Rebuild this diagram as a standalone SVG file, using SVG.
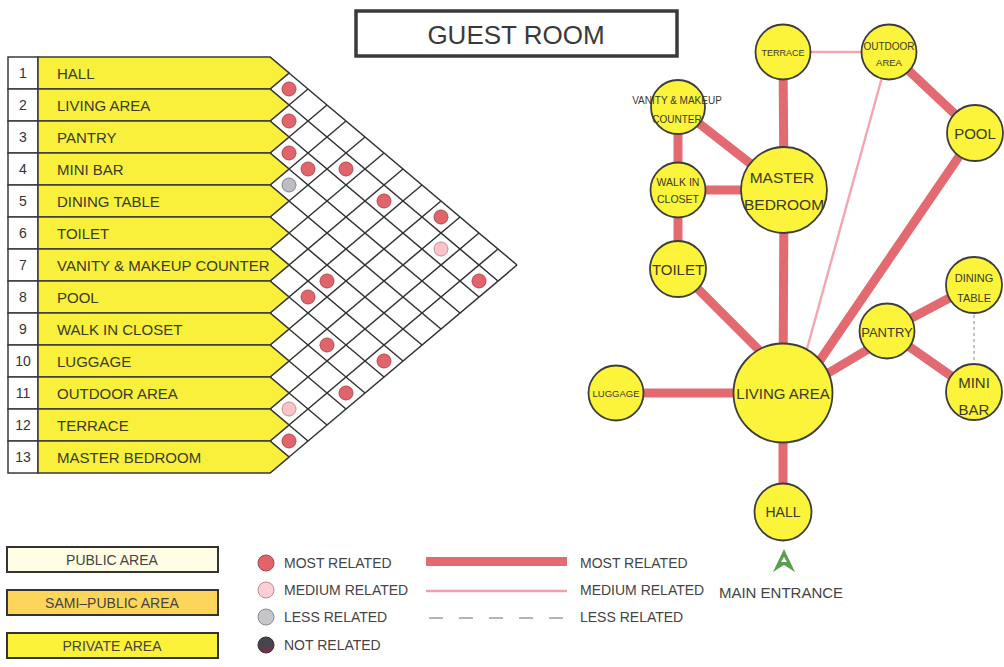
<svg xmlns="http://www.w3.org/2000/svg" width="1004" height="667" viewBox="0 0 1004 667">
<defs>
<style>
text{font-family:"Liberation Sans",Arial,sans-serif;fill:#3a3a2a}
.row{fill:#f9f03c;stroke:#3a3a3a;stroke-width:1.5}
.num{fill:#fff;stroke:#3a3a3a;stroke-width:1.5}
.lbl{font-size:15px}
.n{font-size:14px;text-anchor:middle;fill:#333}
.grid line{stroke:#333;stroke-width:1.5}
.d1{fill:#e0646a;stroke:#b24a52;stroke-width:1}
.d2{fill:#f8c4c8;stroke:#cf8a92;stroke-width:1}
.d3{fill:#bdbdc2;stroke:#85858a;stroke-width:1}
.node{fill:#fcf33b;stroke:#3d3d3d;stroke-width:1.8}
.t{text-anchor:middle;fill:#3a3a2a}
.thick{stroke:#e26a70;stroke-width:9;stroke-linecap:butt}
.med{stroke:#f2a6ae;stroke-width:2.4}
.less{stroke:#9a9aa6;stroke-width:1.2;stroke-dasharray:3 3}
.leg{font-size:14px;fill:#444}
.box{stroke:#333;stroke-width:2}
</style>
<linearGradient id="notrel" x1="0" y1="0" x2="0" y2="1">
<stop offset="0.5" stop-color="#45454d"/>
<stop offset="1" stop-color="#8a2648"/>
</linearGradient>
</defs>
<rect width="1004" height="667" fill="#fff"/>

<g id="title">
<rect x="356" y="11" width="321" height="45" fill="#fff" stroke="#3a3a3a" stroke-width="3.5"/>
<text x="516" y="44" font-size="26" text-anchor="middle" style="fill:#3a3a3a">GUEST ROOM</text>
</g>

<g id="matrix-grid" class="grid">
<polygon points="270,57 517,265 270,473" fill="#fff" stroke="none"/>
<line x1="270" y1="57" x2="517" y2="265"/>
<line x1="270" y1="89" x2="498" y2="281"/>
<line x1="270" y1="121" x2="479" y2="297"/>
<line x1="270" y1="153" x2="460" y2="313"/>
<line x1="270" y1="185" x2="441" y2="329"/>
<line x1="270" y1="217" x2="422" y2="345"/>
<line x1="270" y1="249" x2="403" y2="361"/>
<line x1="270" y1="281" x2="384" y2="377"/>
<line x1="270" y1="313" x2="365" y2="393"/>
<line x1="270" y1="345" x2="346" y2="409"/>
<line x1="270" y1="377" x2="327" y2="425"/>
<line x1="270" y1="409" x2="308" y2="441"/>
<line x1="270" y1="441" x2="289" y2="457"/>
<line x1="270" y1="89" x2="289" y2="73"/>
<line x1="270" y1="121" x2="308" y2="89"/>
<line x1="270" y1="153" x2="327" y2="105"/>
<line x1="270" y1="185" x2="346" y2="121"/>
<line x1="270" y1="217" x2="365" y2="137"/>
<line x1="270" y1="249" x2="384" y2="153"/>
<line x1="270" y1="281" x2="403" y2="169"/>
<line x1="270" y1="313" x2="422" y2="185"/>
<line x1="270" y1="345" x2="441" y2="201"/>
<line x1="270" y1="377" x2="460" y2="217"/>
<line x1="270" y1="409" x2="479" y2="233"/>
<line x1="270" y1="441" x2="498" y2="249"/>
<line x1="270" y1="473" x2="517" y2="265"/>
</g>

<g id="row-1"><rect class="num" x="8" y="57" width="30" height="32"/><polygon class="row" points="38,57 270,57 289,73 270,89 38,89"/><text class="n" x="23" y="78">1</text><text class="lbl" x="57" y="79">HALL</text></g>
<g id="row-2"><rect class="num" x="8" y="89" width="30" height="32"/><polygon class="row" points="38,89 270,89 289,105 270,121 38,121"/><text class="n" x="23" y="110">2</text><text class="lbl" x="57" y="111">LIVING AREA</text></g>
<g id="row-3"><rect class="num" x="8" y="121" width="30" height="32"/><polygon class="row" points="38,121 270,121 289,137 270,153 38,153"/><text class="n" x="23" y="142">3</text><text class="lbl" x="57" y="143">PANTRY</text></g>
<g id="row-4"><rect class="num" x="8" y="153" width="30" height="32"/><polygon class="row" points="38,153 270,153 289,169 270,185 38,185"/><text class="n" x="23" y="174">4</text><text class="lbl" x="57" y="175">MINI BAR</text></g>
<g id="row-5"><rect class="num" x="8" y="185" width="30" height="32"/><polygon class="row" points="38,185 270,185 289,201 270,217 38,217"/><text class="n" x="23" y="206">5</text><text class="lbl" x="57" y="207">DINING TABLE</text></g>
<g id="row-6"><rect class="num" x="8" y="217" width="30" height="32"/><polygon class="row" points="38,217 270,217 289,233 270,249 38,249"/><text class="n" x="23" y="238">6</text><text class="lbl" x="57" y="239">TOILET</text></g>
<g id="row-7"><rect class="num" x="8" y="249" width="30" height="32"/><polygon class="row" points="38,249 270,249 289,265 270,281 38,281"/><text class="n" x="23" y="270">7</text><text class="lbl" x="57" y="271">VANITY &amp; MAKEUP COUNTER</text></g>
<g id="row-8"><rect class="num" x="8" y="281" width="30" height="32"/><polygon class="row" points="38,281 270,281 289,297 270,313 38,313"/><text class="n" x="23" y="302">8</text><text class="lbl" x="57" y="303">POOL</text></g>
<g id="row-9"><rect class="num" x="8" y="313" width="30" height="32"/><polygon class="row" points="38,313 270,313 289,329 270,345 38,345"/><text class="n" x="23" y="334">9</text><text class="lbl" x="57" y="335">WALK IN CLOSET</text></g>
<g id="row-10"><rect class="num" x="8" y="345" width="30" height="32"/><polygon class="row" points="38,345 270,345 289,361 270,377 38,377"/><text class="n" x="23" y="366">10</text><text class="lbl" x="57" y="367">LUGGAGE</text></g>
<g id="row-11"><rect class="num" x="8" y="377" width="30" height="32"/><polygon class="row" points="38,377 270,377 289,393 270,409 38,409"/><text class="n" x="23" y="398">11</text><text class="lbl" x="57" y="399">OUTDOOR AREA</text></g>
<g id="row-12"><rect class="num" x="8" y="409" width="30" height="32"/><polygon class="row" points="38,409 270,409 289,425 270,441 38,441"/><text class="n" x="23" y="430">12</text><text class="lbl" x="57" y="431">TERRACE</text></g>
<g id="row-13"><rect class="num" x="8" y="441" width="30" height="32"/><polygon class="row" points="38,441 270,441 289,457 270,473 38,473"/><text class="n" x="23" y="462">13</text><text class="lbl" x="57" y="463">MASTER BEDROOM</text></g>

<g id="matrix-dots">
<circle class="d1" cx="289" cy="89" r="7"/>
<circle class="d1" cx="289" cy="121" r="7"/>
<circle class="d1" cx="289" cy="153" r="7"/>
<circle class="d1" cx="308" cy="169" r="7"/>
<circle class="d1" cx="346" cy="169" r="7"/>
<circle class="d3" cx="289" cy="185" r="7"/>
<circle class="d1" cx="384" cy="201" r="7"/>
<circle class="d1" cx="441" cy="217" r="7"/>
<circle class="d2" cx="441" cy="249" r="7"/>
<circle class="d1" cx="479" cy="281" r="7"/>
<circle class="d1" cx="327" cy="281" r="7"/>
<circle class="d1" cx="308" cy="297" r="7"/>
<circle class="d1" cx="327" cy="345" r="7"/>
<circle class="d1" cx="384" cy="361" r="7"/>
<circle class="d1" cx="346" cy="393" r="7"/>
<circle class="d2" cx="289" cy="409" r="7"/>
<circle class="d1" cx="289" cy="441" r="7"/>
</g>

<g id="connectors">
<line class="thick" x1="783" y1="52" x2="784" y2="190"/>
<line class="thick" x1="889" y1="52" x2="975" y2="133"/>
<line class="thick" x1="678" y1="107" x2="784" y2="190"/>
<line class="thick" x1="678" y1="107" x2="678" y2="190"/>
<line class="thick" x1="678" y1="190" x2="784" y2="190"/>
<line class="thick" x1="678" y1="190" x2="678" y2="269"/>
<line class="thick" x1="678" y1="269" x2="790" y2="381"/>
<line class="thick" x1="784" y1="190" x2="783" y2="393"/>
<line class="thick" x1="975" y1="133" x2="812" y2="372"/>
<line class="thick" x1="887" y1="338" x2="783" y2="400"/>
<line class="thick" x1="887" y1="331" x2="974" y2="285"/>
<line class="thick" x1="887" y1="331" x2="974" y2="392"/>
<line class="thick" x1="616" y1="393" x2="783" y2="393"/>
<line class="thick" x1="783" y1="393" x2="783" y2="512"/>
<line class="med" x1="783" y1="52" x2="889" y2="52"/>
<line class="med" x1="889" y1="52" x2="797" y2="385"/>
<line class="less" x1="974" y1="285" x2="974" y2="392"/>
</g>

<g id="terrace"><circle class="node" cx="783" cy="52" r="27.5"/><text class="t" x="783" y="55.5" font-size="9">TERRACE</text></g>
<g id="outdoor-area"><circle class="node" cx="889" cy="52" r="27.5"/><text class="t" x="889" y="50" font-size="10">OUTDOOR</text><text class="t" x="889" y="66" font-size="9.5">AREA</text></g>
<g id="vanity"><circle class="node" cx="678" cy="107" r="27"/><text class="t" x="677" y="104" font-size="10">VANITY &amp; MAKEUP</text><text class="t" x="677" y="122.5" font-size="10">COUNTER</text></g>
<g id="walk-in-closet"><circle class="node" cx="678" cy="190" r="27.5"/><text class="t" x="678" y="186" font-size="10.5">WALK IN</text><text class="t" x="678" y="203" font-size="10.5">CLOSET</text></g>
<g id="master-bedroom"><circle class="node" cx="784" cy="190" r="43"/><text class="t" x="782" y="183" font-size="15.5">MASTER</text><text class="t" x="784" y="209.5" font-size="15.5">BEDROOM</text></g>
<g id="pool"><circle class="node" cx="975" cy="133" r="28"/><text class="t" x="975" y="138.5" font-size="15">POOL</text></g>
<g id="toilet"><circle class="node" cx="678" cy="269" r="28"/><text class="t" x="678" y="274.5" font-size="15">TOILET</text></g>
<g id="living-area"><circle class="node" cx="783" cy="393" r="49.5"/><text class="t" x="783" y="399" font-size="15">LIVING AREA</text></g>
<g id="pantry"><circle class="node" cx="887" cy="331" r="27.5"/><text class="t" x="887" y="336.5" font-size="13">PANTRY</text></g>
<g id="dining-table"><circle class="node" cx="974" cy="285" r="28"/><text class="t" x="974" y="282" font-size="11">DINING</text><text class="t" x="974" y="302" font-size="11">TABLE</text></g>
<g id="mini-bar"><circle class="node" cx="974" cy="392" r="28"/><text class="t" x="974" y="388" font-size="15">MINI</text><text class="t" x="974" y="415" font-size="15">BAR</text></g>
<g id="luggage"><circle class="node" cx="616" cy="393" r="27.5"/><text class="t" x="616" y="396.5" font-size="9.5">LUGGAGE</text></g>
<g id="hall"><circle class="node" cx="783" cy="512" r="28.5"/><text class="t" x="783" y="517" font-size="14">HALL</text></g>

<g id="main-entrance">
<polygon points="784,549 795,572 784,565 773,572" fill="#5a9e4f"/>
<polygon points="784,557 787,562 781,562" fill="#fff"/>
<text x="781" y="598" font-size="15" text-anchor="middle" style="fill:#444">MAIN ENTRANCE</text>
</g>

<g id="legend-areas">
<rect class="box" x="7" y="547" width="211" height="25" fill="#fffde3"/>
<text class="leg" x="112" y="565" text-anchor="middle">PUBLIC AREA</text>
<rect class="box" x="7" y="590" width="211" height="25" fill="#fcd55a"/>
<text class="leg" x="112" y="608" text-anchor="middle">SAMI–PUBLIC AREA</text>
<rect class="box" x="7" y="633" width="211" height="25" fill="#fcf23a"/>
<text class="leg" x="112" y="651" text-anchor="middle">PRIVATE AREA</text>
</g>

<g id="legend-dots">
<circle cx="266" cy="563" r="8" fill="#e0646a" stroke="#a8444c" stroke-width="1"/>
<text class="leg" x="284" y="568">MOST RELATED</text>
<circle cx="266" cy="590" r="8" fill="#fbd0d4" stroke="#c08890" stroke-width="1"/>
<text class="leg" x="284" y="595">MEDIUM RELATED</text>
<circle cx="266" cy="617" r="8" fill="#c6c6ca" stroke="#8a8a8e" stroke-width="1"/>
<text class="leg" x="284" y="622">LESS RELATED</text>
<circle cx="266" cy="645" r="8" fill="url(#notrel)" stroke="#333" stroke-width="1"/>
<text class="leg" x="284" y="650">NOT RELATED</text>
</g>

<g id="legend-lines">
<rect x="426" y="557" width="141" height="9" fill="#e26a70"/>
<line x1="426" y1="591" x2="567" y2="591" stroke="#f2a0a8" stroke-width="2.5"/>
<line x1="429" y1="618" x2="567" y2="618" stroke="#9a9aa2" stroke-width="1.3" stroke-dasharray="14 16"/>
<text class="leg" x="580" y="568">MOST RELATED</text>
<text class="leg" x="580" y="595">MEDIUM RELATED</text>
<text class="leg" x="580" y="622">LESS RELATED</text>
</g>
</svg>
